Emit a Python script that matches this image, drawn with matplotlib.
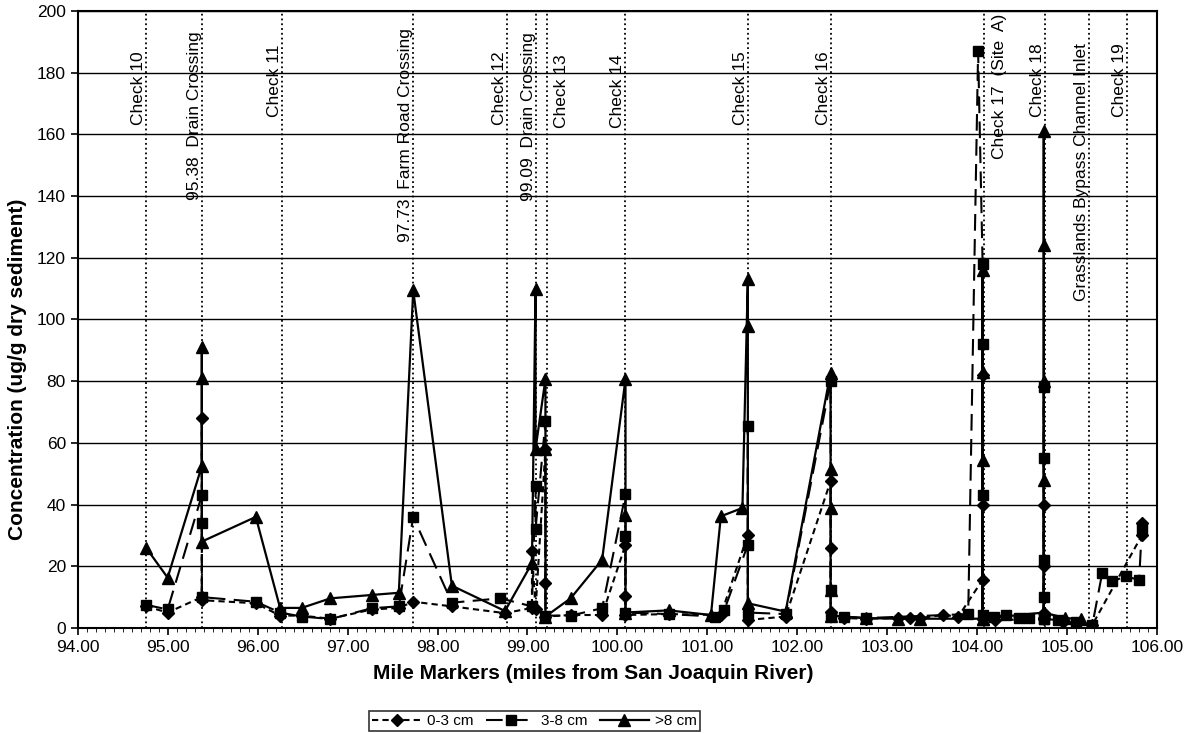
import matplotlib
matplotlib.use("Agg")
import matplotlib.pyplot as plt
from matplotlib.ticker import FormatStrFormatter, MultipleLocator

plt.rcParams["font.family"] = ["Liberation Sans", "DejaVu Sans"]

# 0-3 cm (diamonds)
x_shallow = [94.76, 95.00, 95.38, 95.38, 95.38, 95.98, 96.25, 96.49, 96.81, 97.27, 97.57, 97.73,
             98.16, 98.75, 99.05, 99.05, 99.09, 99.20, 99.20, 99.20, 99.48, 99.83, 100.09, 100.09,
             100.09, 100.57, 101.15, 101.45, 101.45, 101.87, 102.37, 102.37, 102.37, 102.52, 102.76,
             103.12, 103.25, 103.36, 103.62, 103.79, 104.06, 104.06, 104.06, 104.06, 104.20, 104.74,
             104.74, 104.74, 104.74, 104.95, 105.10, 105.28, 105.83, 105.83]
y_shallow = [7, 5, 10, 68, 9, 8, 4, 4, 3, 6, 6.5, 8.5,
             7, 4.8, 6.5, 24.8, 6, 58, 14.6, 3.7, 4.2, 4.2, 27, 10.2,
             4.2, 4.5, 4.2, 30.2, 2.6, 3.7, 47.6, 25.9, 5.3, 3.2, 3.0,
             3.2, 3.2, 3.2, 4.2, 3.7, 15.6, 82, 40, 3, 2.5, 3,
             40, 20, 5, 2, 1.5, 1, 30, 34]

# 3-8 cm (squares)
x_mid = [94.76, 95.00, 95.38, 95.38, 95.38, 95.98, 96.25, 96.49, 96.81, 97.27, 97.57, 97.73,
         98.16, 98.70, 99.05, 99.09, 99.09, 99.20, 99.20, 99.48, 99.83, 100.09, 100.09, 100.09,
         100.57, 101.08, 101.19, 101.45, 101.45, 101.45, 101.87, 102.37, 102.37, 102.37, 102.52,
         102.76, 103.90, 104.01, 104.06, 104.06, 104.06, 104.06, 104.19, 104.32, 104.47, 104.58,
         104.74, 104.74, 104.74, 104.74, 104.74, 104.74, 104.90, 105.10, 105.28, 105.39, 105.50,
         105.65, 105.80, 105.83]
y_mid = [7.5, 6, 43, 34, 10, 8.5, 5, 3.7, 2.9, 6.4, 7, 36,
         8.2, 9.6, 7, 46, 32, 67, 4, 4, 6.4, 43.3, 29.7, 5,
         4.5, 3.7, 5.9, 27, 65.5, 5, 4.5, 80, 12.4, 4, 3.7,
         3.2, 4.5, 187, 118, 92, 43, 4.2, 3.7, 4.2, 3.2, 3.2,
         3, 78, 55, 22, 10, 3, 2.5, 2, 1, 17.9, 15.1,
         16.7, 15.6, 32]

# >8 cm (triangles)
x_deep = [94.76, 95.00, 95.38, 95.38, 95.38, 95.38, 95.98, 96.25, 96.49, 96.81, 97.27, 97.57,
          97.73, 98.16, 98.75, 99.05, 99.09, 99.09, 99.20, 99.20, 99.20, 99.48, 99.83, 100.09,
          100.09, 100.09, 100.57, 101.04, 101.15, 101.39, 101.45, 101.45, 101.45, 101.87, 102.37,
          102.37, 102.37, 102.37, 102.37, 102.76, 103.12, 103.36, 104.06, 104.06, 104.06, 104.06,
          104.06, 104.74, 104.74, 104.74, 104.74, 104.74, 104.74, 104.98, 105.15]
y_deep = [26, 16.3, 52.5, 81, 91, 28, 36, 6.5, 6.5, 9.6, 10.7, 11.4,
          109.4, 13.7, 5.5, 21, 110, 58, 80.7, 58, 3.7, 9.6, 22.1, 80.7,
          36.7, 5, 5.7, 4.2, 36.2, 38.9, 113.2, 98, 8, 5.3, 82.8,
          51.4, 38.9, 12.4, 4, 3.2, 3, 3, 3, 116, 83, 54.5,
          3, 5, 161, 124, 80, 48, 5, 3.2, 2.9]

# reference sites along the channel
site_miles = [94.76, 95.38, 96.27, 97.73, 98.77, 99.09, 99.22, 100.09, 101.45, 102.37,
              104.08, 104.75, 105.24, 105.66]
site_names = ["Check 10", "95.38  Drain Crossing", "Check 11", "97.73  Farm Road Crossing",
              "Check 12", "99.09  Drain Crossing", "Check 13", "Check 14", "Check 15",
              "Check 16", "Check 17  (Site  A)", "Check 18", "Grasslands Bypass Channel Inlet",
              "Check 19"]
site_label_top = [187, 193.5, 189, 194.5, 187, 193, 186, 186, 187, 187, 199, 189.6, 189.6, 189.6]
site_label_right = [False, False, False, False, False, False, True, False, False, False,
                    True, False, False, False]

fig, ax = plt.subplots(figsize=(11.88, 7.33), dpi=100)
fig.subplots_adjust(left=0.0654, right=0.974, bottom=0.1433, top=0.985)

ax.grid(axis="y", color="black", lw=1.0)
ax.set_axisbelow(True)

for mile, name, top, right in zip(site_miles, site_names, site_label_top, site_label_right):
    ax.axvline(mile, color="black", ls=":", lw=1.3, zorder=1)
    if right:
        ax.text(mile + 0.08, top, name, rotation=90, ha="left", va="top", fontsize=12.5)
    else:
        ax.text(mile, top, name, rotation=90, ha="right", va="top", fontsize=12.5)

ax.plot(x_shallow, y_shallow, color="black", lw=1.5, dashes=(3, 2), marker="D", ms=6.5,
        label="0-3 cm", zorder=3)
ax.plot(x_mid, y_mid, color="black", lw=1.5, dashes=(8, 4), marker="s", ms=6.5,
        label="3-8 cm", zorder=3)
ax.plot(x_deep, y_deep, color="black", lw=1.6, ls="-", marker="^", ms=8.5,
        label=">8 cm", zorder=3)

ax.set_xlim(94, 106)
ax.set_ylim(0, 200)
ax.xaxis.set_major_locator(MultipleLocator(1))
ax.xaxis.set_minor_locator(MultipleLocator(0.1))
ax.xaxis.set_major_formatter(FormatStrFormatter("%.2f"))
ax.yaxis.set_major_locator(MultipleLocator(20))
ax.tick_params(axis="both", which="major", labelsize=12.5, direction="out", length=5, width=1.2)
ax.tick_params(axis="x", which="minor", direction="out", length=3)
for spine in ax.spines.values():
    spine.set_linewidth(1.5)

ax.set_xlabel("Mile Markers (miles from San Joaquin River)", fontsize=15, fontweight="bold")
ax.set_ylabel("Concentration (ug/g dry sediment)", fontsize=15, fontweight="bold")
ax.xaxis.set_label_coords(0.478, -0.058)
ax.yaxis.set_label_coords(-0.047, 0.42)

leg = fig.legend(loc="lower center", bbox_to_anchor=(0.45, 0.0), ncol=3, fontsize=11,
                 frameon=True, fancybox=False, edgecolor="black", handlelength=3.2,
                 borderpad=0.2, columnspacing=0.8, handletextpad=0.4, borderaxespad=0.1)
leg.get_frame().set_linewidth(1.2)

fig.savefig("out.png", dpi=100)
